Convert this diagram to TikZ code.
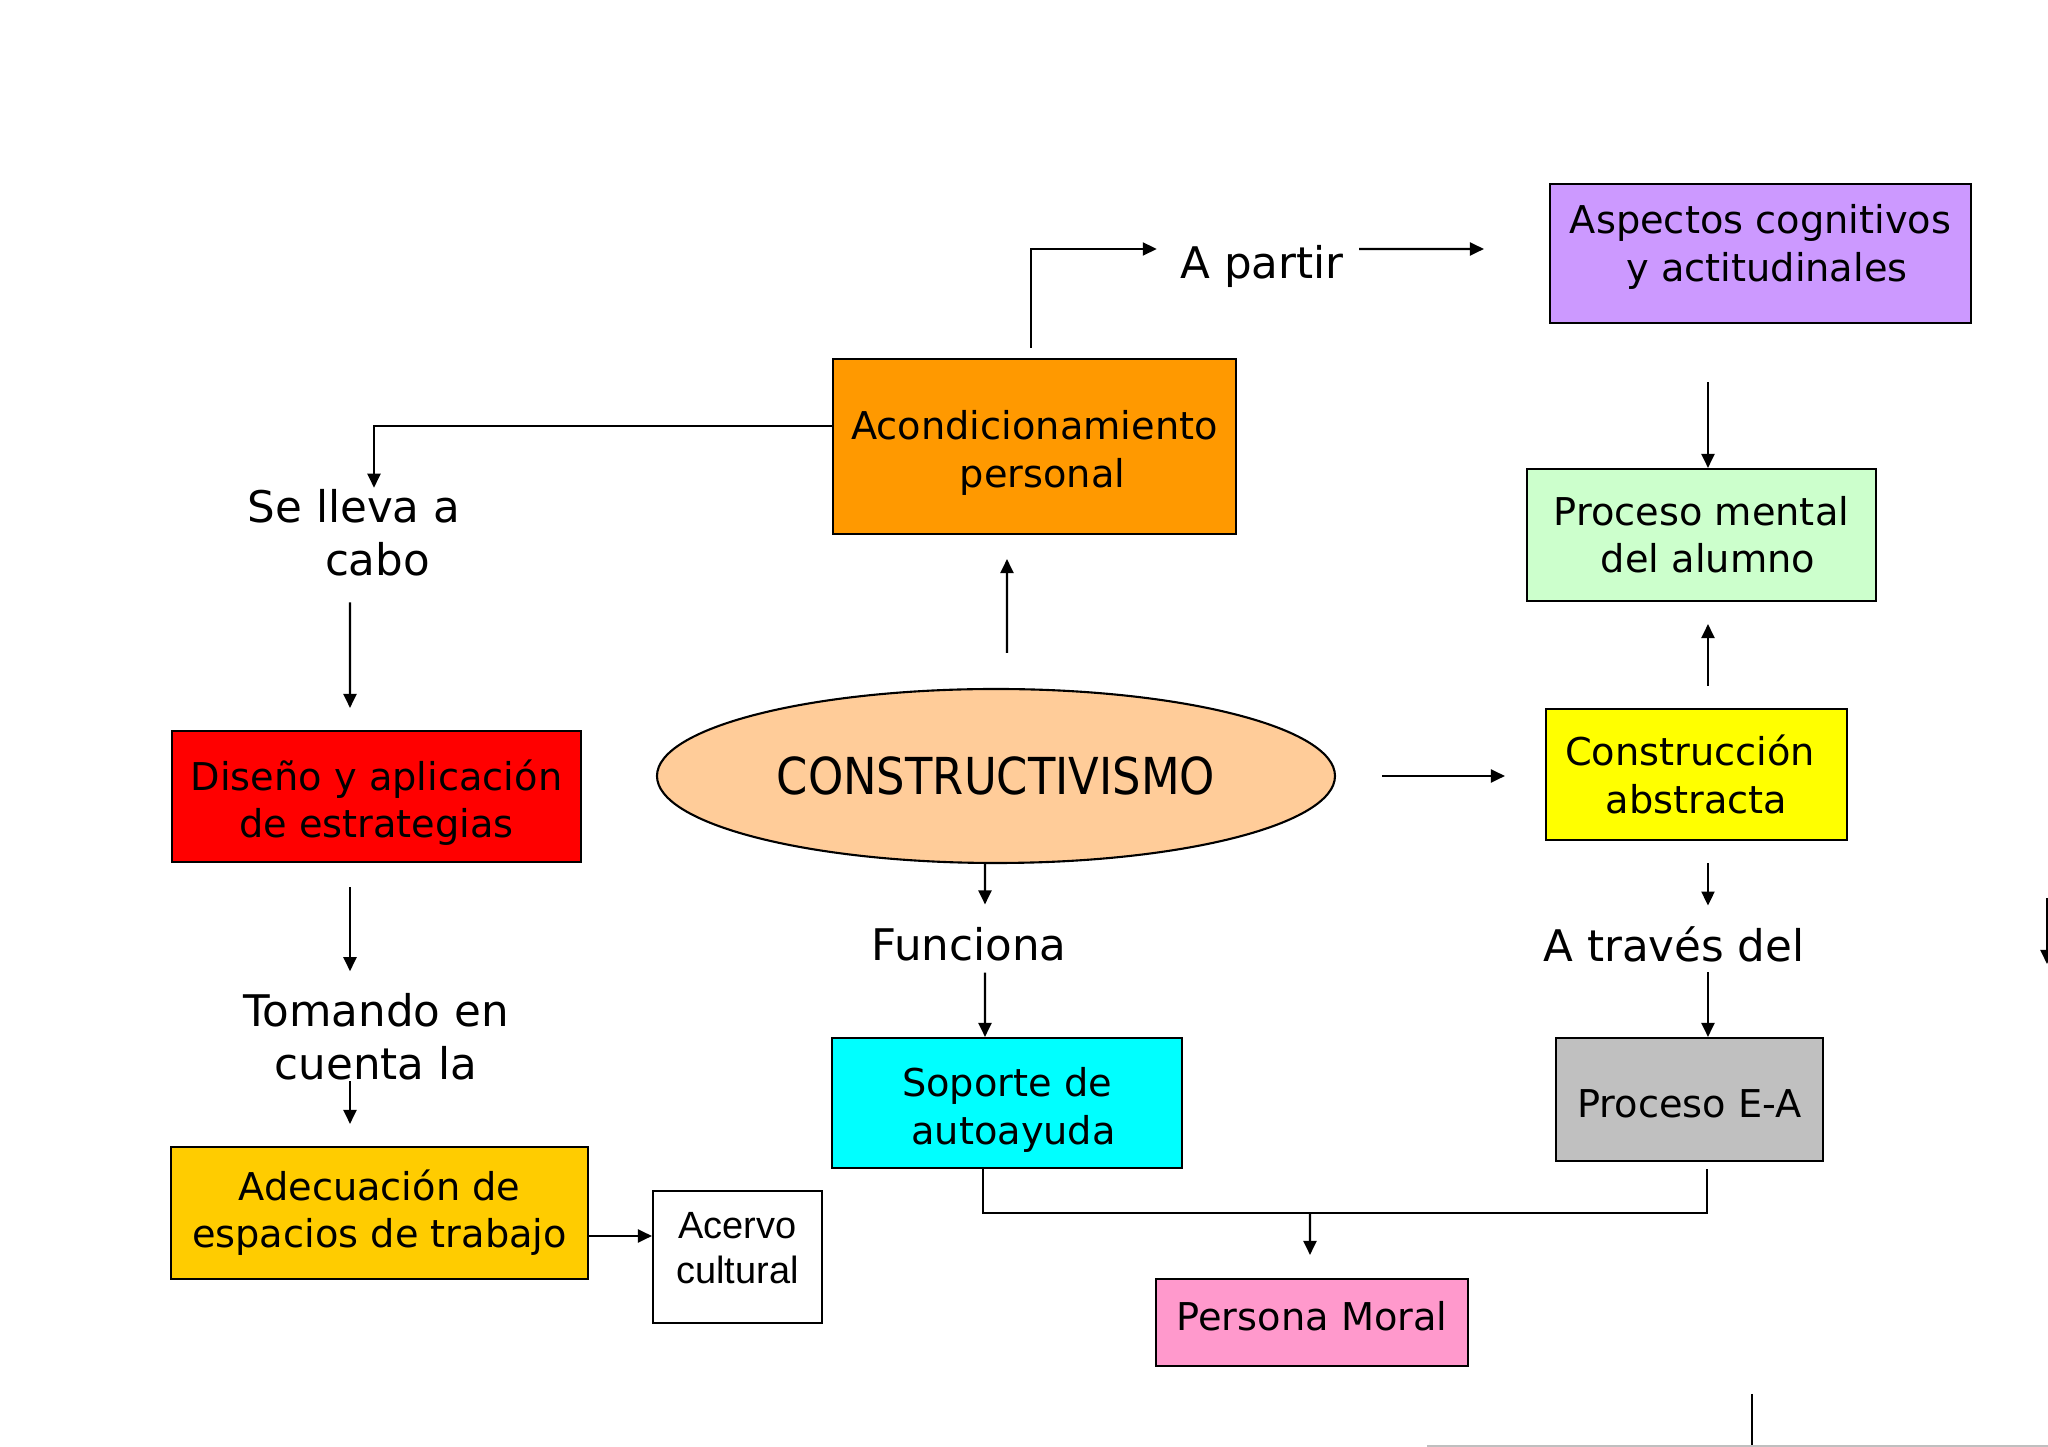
\documentclass[tikz,border=0pt]{standalone}
\usepackage{fontspec}
\setmainfont{DejaVu Sans}
\newfontfamily\arialfont{Liberation Sans}
\usetikzlibrary{shapes.geometric,arrows.meta}
\definecolor{cpeach}{HTML}{FFCC99}
\definecolor{corange}{HTML}{FF9900}
\definecolor{clilac}{HTML}{CC99FF}
\definecolor{cmint}{HTML}{CCFFCC}
\definecolor{cyellow}{HTML}{FFFF00}
\definecolor{cgray}{HTML}{C0C0C0}
\definecolor{cgold}{HTML}{FFCC00}
\definecolor{ccyan}{HTML}{00FFFF}
\definecolor{cpink}{HTML}{FF99CC}
\definecolor{cred}{HTML}{FF0000}
% struts that nudge box text up or down
\newcommand{\lift}[1]{\rule[-#1]{0pt}{0pt}}
\newcommand{\sink}[1]{\rule{0pt}{#1}}

\begin{document}
\begin{tikzpicture}[every node/.style={font=\fontsize{10.9}{13.4}\selectfont},
    box/.style={draw, line width=0.6pt, inner sep=0pt, align=center},
    phrase/.style={inner sep=0pt, align=center, font=\fontsize{12.4}{15.2}\selectfont},
    arr/.style={line width=0.6pt, -{Triangle[length=1.4mm,width=1.3mm]}}]
    \useasboundingbox (0,0) rectangle (20.48,-14.47);
    % Center
    \node[ellipse, draw, line width=0.6pt, fill=cpeach, minimum width=6.78cm, minimum height=1.74cm, inner sep=0pt,
          font=\fontsize{14.5}{17}\selectfont] (cons) at (9.96,-7.76) {\scalebox{0.88}[1]{CONSTRUCTIVISMO}};
    % Upper branch
    \node[box, fill=corange, minimum width=4.03cm, minimum height=1.75cm] (acon) at (10.345,-4.465) {\sink{0.42cm}Acondicionamiento\\ \hspace*{0.16cm}personal};
    \node[phrase] (partir) at (12.62,-2.66) {A partir};
    \node[box, fill=clilac, minimum width=4.21cm, minimum height=1.39cm] (asp) at (17.605,-2.535) {Aspectos cognitivos\\ \hspace*{0.13cm}y actitudinales\lift{0.21cm}};
    % Right branch
    \node[box, fill=cmint, minimum width=3.49cm, minimum height=1.32cm] (mental) at (17.015,-5.35) {Proceso mental\\ \hspace*{0.13cm}del alumno};
    \node[box, fill=cyellow, minimum width=3.01cm, minimum height=1.31cm] (abst) at (16.965,-7.745) {Construcción\hspace*{0.13cm}\\ abstracta};
    \node[phrase] (traves) at (16.74,-9.44) {A través del};
    \node[box, fill=cgray, minimum width=2.67cm, minimum height=1.23cm] (ea) at (16.895,-10.995) {\sink{0.36cm}Proceso E-A};
    % Left branch
    \node[phrase] (lleva) at (3.54,-5.33) {Se lleva a\\ \hspace*{0.47cm}cabo};
    \node[box, fill=cred, minimum width=4.09cm, minimum height=1.31cm] (diseno) at (3.765,-7.965) {\sink{0.43cm}Diseño y aplicación\\ de estrategias};
    \node[phrase] (tomando) at (3.76,-10.37) {Tomando en\\ cuenta la};
    \node[box, fill=cgold, minimum width=4.17cm, minimum height=1.32cm] (adec) at (3.795,-12.13) {Adecuación de\\ espacios de trabajo};
    \node[box, fill=white, minimum width=1.69cm, minimum height=1.32cm,
          font=\arialfont\fontsize{10.8}{12.8}\selectfont] (acervo) at (7.375,-12.57) {Acervo\\ cultural\lift{0.18cm}};
    % Lower branch
    \node[phrase] (funciona) at (9.69,-9.44) {Funciona};
    \node[box, fill=ccyan, minimum width=3.50cm, minimum height=1.30cm] (soporte) at (10.07,-11.03) {\sink{0.43cm}Soporte de\\ \hspace*{0.13cm}autoayuda};
    \node[box, fill=cpink, minimum width=3.12cm, minimum height=0.87cm] (moral) at (13.12,-13.225) {Persona Moral\lift{0.13cm}};
    % Connectors
    \draw[arr] ([yshift=0.205cm]acon.west) -| ([xshift=0.2cm,yshift=0.01cm]lleva.north);
    \draw[arr] ([xshift=-0.035cm,yshift=0.1cm]acon.north) |- ([xshift=-0.23cm,yshift=0.17cm]partir.west);
    \draw[arr] ([xshift=0.15cm,yshift=0.17cm]partir.east) -- ([xshift=-0.65cm,yshift=0.045cm]asp.west);
    \draw[arr] ([xshift=-0.525cm,yshift=-0.58cm]asp.south) -- ([xshift=0.065cm]mental.north);
    \draw[arr] ([xshift=0.115cm,yshift=0.22cm]abst.north) -- ([xshift=0.065cm,yshift=-0.22cm]mental.south);
    \draw[arr] ([xshift=0.46cm]cons.east) -- ([xshift=-0.4cm,yshift=-0.015cm]abst.west);
    \draw[arr] ([xshift=0.11cm,yshift=0.35cm]cons.north) -- ([xshift=-0.275cm,yshift=-0.24cm]acon.south);
    \draw[arr] ([xshift=0.115cm,yshift=-0.22cm]abst.south) -- ([xshift=0.34cm,yshift=0.2cm]traves.north);
    \draw[arr] ([xshift=0.34cm,yshift=-0.1cm]traves.south) -- ([xshift=0.185cm]ea.north);
    \draw[arr] ([xshift=-0.11cm]cons.south) -- ([xshift=0.16cm,yshift=0.22cm]funciona.north);
    \draw[arr] ([xshift=0.16cm,yshift=-0.11cm]funciona.south) -- ([xshift=-0.22cm]soporte.north);
    \draw[arr] ([xshift=-0.04cm,yshift=-0.25cm]lleva.south) -- ([xshift=-0.265cm,yshift=0.22cm]diseno.north);
    \draw[arr] ([xshift=-0.265cm,yshift=-0.24cm]diseno.south) -- ([xshift=-0.26cm,yshift=0.215cm]tomando.north);
    \draw[arr] ([xshift=-0.26cm]tomando.south) -- ([xshift=-0.295cm,yshift=0.22cm]adec.north);
    \draw[arr] ([yshift=-0.23cm]adec.east) -- ([yshift=0.21cm]acervo.west);
    % Joining bracket
    \coordinate (join) at (13.10,-12.13);
    \draw[line width=0.6pt] ([xshift=-0.24cm]soporte.south) |- (join) -| ([xshift=0.175cm,yshift=-0.07cm]ea.south);
    \draw[arr] (join) -- ([xshift=-0.02cm,yshift=0.23cm]moral.north);
    % Cut-off pieces at the edges
    \coordinate (edge) at (20.47,-8.98);
    \draw[arr] (edge) -- ++(0,-0.66);
    \draw[line width=0.6pt] (17.52,-13.94) -- (17.52,-14.47);
    \draw[line width=0.6pt, black!25] (14.27,-14.46) -- (20.48,-14.46);
\end{tikzpicture}
\end{document}
